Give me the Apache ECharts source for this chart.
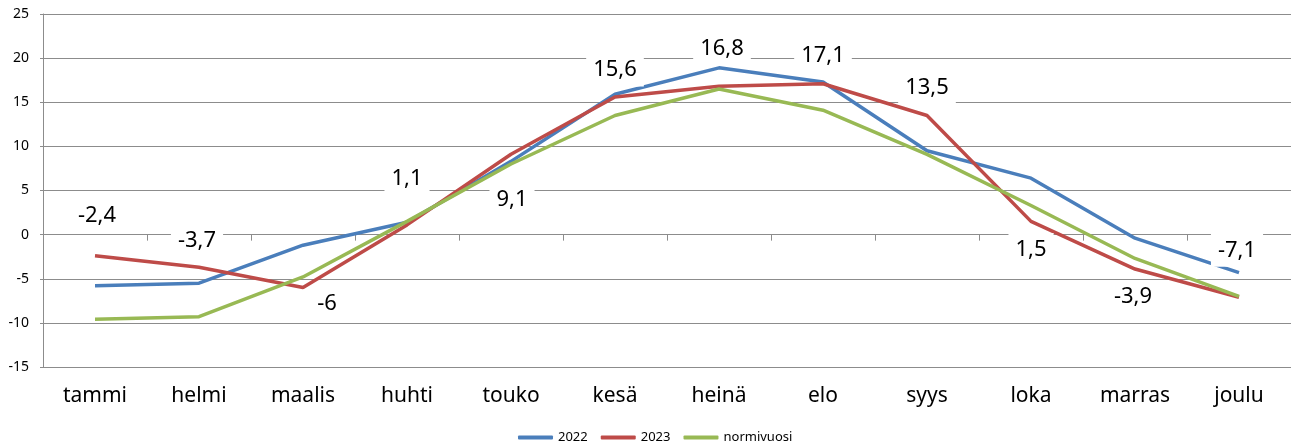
<!DOCTYPE html>
<html>
<head>
<meta charset="utf-8">
<title>Lämpötilat</title>
<script src="https://cdn.jsdelivr.net/npm/echarts@6/dist/echarts.min.js"></script>
<style>
html, body { margin:0; padding:0; background:#fff; }
#main { width:1291px; height:441px; }
</style>
</head>
<body>
<div id="main"></div>
<script type="text/javascript">
  var months = ['tammi', 'helmi', 'maalis', 'huhti', 'touko', 'kesä', 'heinä', 'elo', 'syys', 'loka', 'marras', 'joulu'];
  var data2022 = [-5.8, -5.5, -1.2, 1.4, 8.3, 15.9, 18.9, 17.3, 9.5, 6.4, -0.4, -4.3];
  var data2023 = [-2.4, -3.7, -6, 1.1, 9.1, 15.6, 16.8, 17.1, 13.5, 1.5, -3.9, -7.1];
  var dataNormal = [-9.6, -9.3, -4.8, 1.5, 8.0, 13.5, 16.5, 14.1, 9.1, 3.3, -2.7, -7.0];
  var yTicks = { min: -15, max: 25, step: 5 };

  // where each 2023 label sits relative to its point (px)
  var labelOffsets = [[2, -37], [-2, -24], [24, 19], [0, -43], [1, 48], [0, -24],
                      [3, -35], [0, -25], [0, -25], [0, 31], [-2, 31], [-2, -44]];

  var font = 'Noto Sans';
  var gridColor = '#8c8c8c';

  var chart = echarts.init(document.getElementById('main'));

  var option = {
    animation: false,
    backgroundColor: '#fff',
    grid: { left: 43, right: 0, top: 14, bottom: 74 },
    legend: {
      data: ['2022', '2023', 'normivuosi'],
      left: 513,
      top: 426,
      itemWidth: 35,
      itemHeight: 4,
      itemGap: 13,
      icon: 'roundRect',
      textStyle: { fontFamily: font, fontSize: 13, color: '#000' }
    },
    xAxis: [{
      type: 'category',
      data: months,
      position: 'bottom',
      axisLine: { show: false, onZero: false },
      axisTick: { show: false },
      axisLabel: { fontFamily: font, fontSize: 21, color: '#000', margin: 19 }
    }, {
      type: 'category',
      data: months,
      position: 'top',
      axisLine: { show: true, onZero: true, lineStyle: { color: gridColor, width: 1 } },
      axisTick: { show: true, inside: true, length: 6, lineStyle: { color: gridColor } },
      axisLabel: { show: false }
    }],
    yAxis: {
      type: 'value',
      min: yTicks.min,
      max: yTicks.max,
      interval: yTicks.step,
      axisLine: { show: true, lineStyle: { color: gridColor, width: 1 } },
      axisTick: { show: true, length: 3, lineStyle: { color: gridColor } },
      axisLabel: { fontFamily: font, fontSize: 14, color: '#000', margin: 14 },
      splitLine: { lineStyle: { color: gridColor, width: 1 } }
    },
    series: [{
      name: '2022',
      type: 'line',
      data: data2022,
      symbol: 'none',
      z: 2,
      lineStyle: { color: '#4a7ebb', width: 3.5 },
      itemStyle: { color: '#4a7ebb' }
    }, {
      name: '2023',
      type: 'line',
      data: data2023,
      symbol: 'none',
      z: 3,
      lineStyle: { color: '#be4b48', width: 3.5 },
      itemStyle: { color: '#be4b48' }
    }, {
      name: 'normivuosi',
      type: 'line',
      data: dataNormal,
      symbol: 'none',
      z: 4,
      lineStyle: { color: '#98b954', width: 3.5 },
      itemStyle: { color: '#98b954' }
    }, {
      // value labels of 2023 on top of everything
      name: 'labels',
      type: 'line',
      data: data2023,
      symbol: 'circle',
      symbolSize: 0,
      z: 10,
      silent: true,
      lineStyle: { opacity: 0 },
      itemStyle: { color: 'transparent' },
      label: {
        show: true,
        position: 'inside',
        fontFamily: font,
        fontSize: 22,
        lineHeight: 22,
        color: '#000',
        backgroundColor: '#fff',
        padding: [8, 7, 3, 7],
        formatter: function (p) {
          return String(p.value).replace('.', ',');
        }
      },
      labelLayout: function (p) {
        var o = labelOffsets[p.dataIndex];
        return { dx: o[0], dy: o[1] - 3, hideOverlap: false };
      }
    }]
  };

  chart.setOption(option);
</script>
</body>
</html>
